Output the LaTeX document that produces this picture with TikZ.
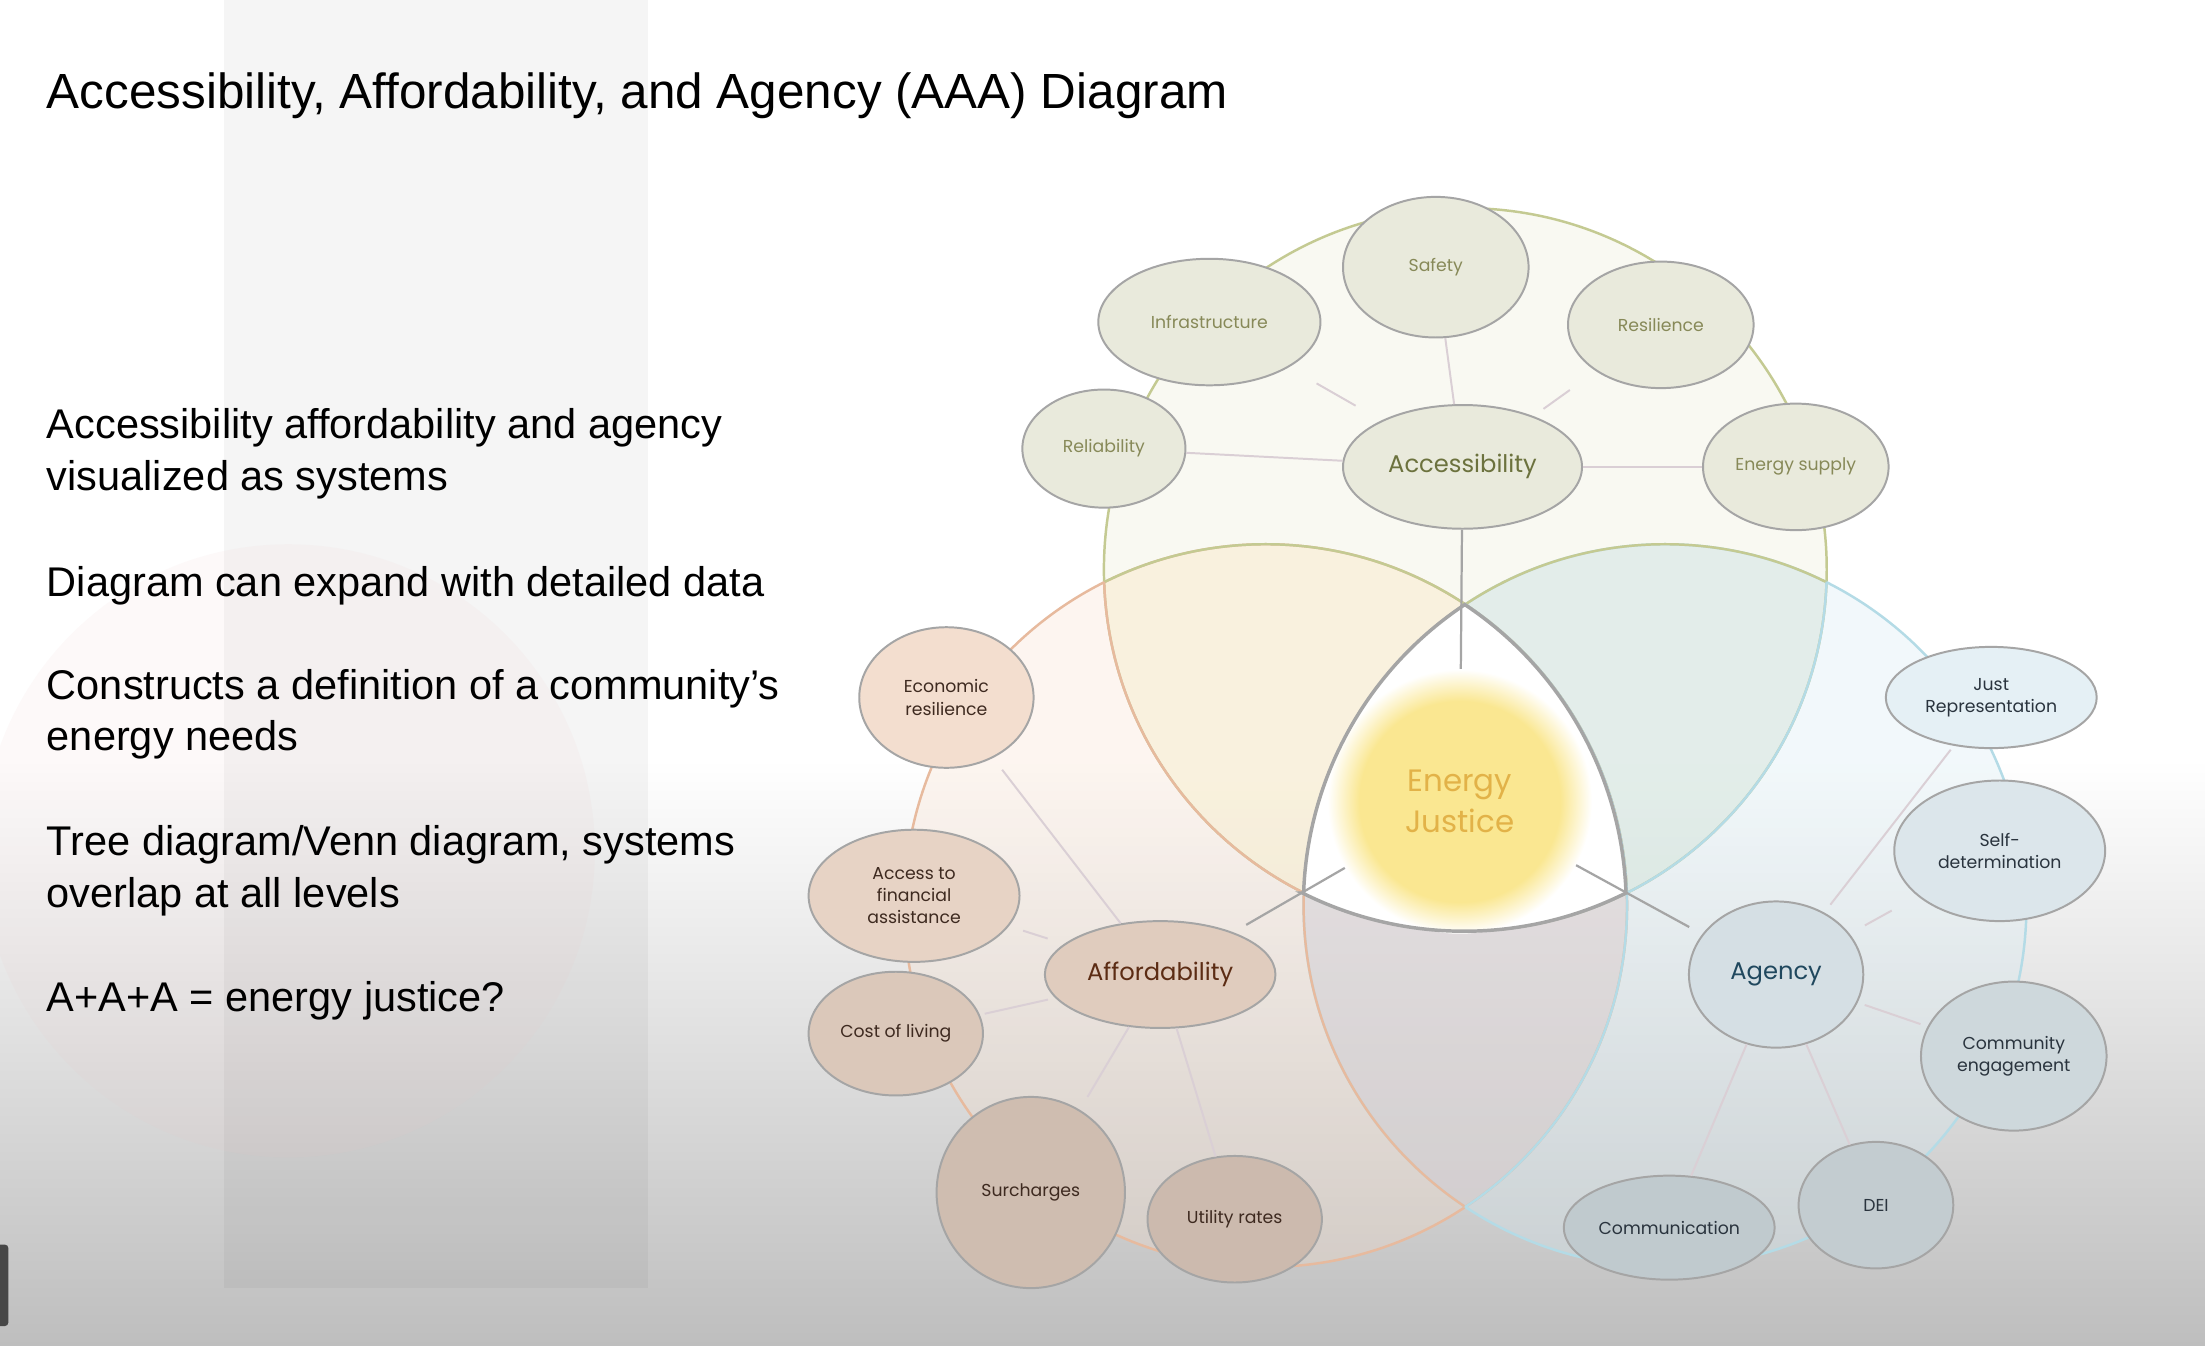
\documentclass[tikz,border=0pt]{standalone}
\usepackage{fontspec}
\setmainfont{Liberation Sans}
\newfontfamily\sketchfont{Poppins}
\usetikzlibrary{shapes.geometric, positioning}

\definecolor{bggray}{RGB}{190,190,190}
\definecolor{blush}{RGB}{236,200,200}
\definecolor{accring}{RGB}{196,202,146}
\definecolor{affring}{RGB}{231,186,158}
\definecolor{agcring}{RGB}{180,219,230}
\definecolor{accwash}{RGB}{236,238,214}
\definecolor{affwash}{RGB}{248,222,202}
\definecolor{agcwash}{RGB}{214,235,243}
\definecolor{lensab}{RGB}{255,244,200}
\definecolor{lensac}{RGB}{196,220,212}
\definecolor{lensbc}{RGB}{196,172,182}
\definecolor{ejline}{RGB}{165,165,165}
\definecolor{glowyel}{RGB}{250,231,145}
\definecolor{ejtext}{RGB}{226,178,72}
\definecolor{bubline}{RGB}{165,165,165}
\definecolor{linkpink}{RGB}{218,207,213}
\definecolor{accfill}{RGB}{233,234,220}
\definecolor{afffill}{RGB}{243,222,207}
\definecolor{agcfill}{RGB}{229,240,245}
\definecolor{acctext}{RGB}{135,137,88}
\definecolor{acchub}{RGB}{108,114,62}
\definecolor{afftext}{RGB}{62,42,32}
\definecolor{affhub}{RGB}{92,44,20}
\definecolor{agctext}{RGB}{42,52,62}
\definecolor{agchub}{RGB}{32,72,94}

\pgfdeclareradialshading{ejglow}{\pgfpoint{0cm}{0cm}}{color(0bp)=(glowyel); color(19bp)=(glowyel); color(25bp)=(white); color(50bp)=(white)}

\begin{document}
\begin{tikzpicture}[x=0.02cm, y=-0.02cm,
  bubble/.style={ellipse, draw=bubline, line width=0.8pt, inner sep=0pt, align=center,
    font=\sketchfont\fontsize{7}{9}\selectfont},
  accbub/.style={bubble, fill=accfill, text=acctext},
  affbub/.style={bubble, fill=afffill!#1!black, text=afftext},
  agcbub/.style={bubble, fill=agcfill!#1!black, text=agctext},
  hub/.style={font=\sketchfont\fontsize{9.8}{12}\selectfont},
  link/.style={draw=linkpink, line width=0.8pt},
  ejlink/.style={draw=ejline, line width=0.9pt},
  ring/.style={line width=1pt},
  bullet/.style={anchor=base west, align=left, inner sep=0pt, font=\fontsize{16.8}{21}\selectfont}]
  \useasboundingbox (0,0) rectangle (1568,957);
  % Background
  \fill[white] (0,0) rectangle (1568,541);
  \shade[top color=white, bottom color=bggray] (0,540) rectangle (1568,957);
  \fill[black, opacity=0.04] (159,0) rectangle (461,916);
  \fill[blush, opacity=0.1] (205,605) circle (218);
  \fill[black!72, rounded corners=1.5pt] (-6,885) rectangle (6,943);
  % Title and notes
  \node[anchor=base west, inner sep=0pt, font=\fontsize{20}{24}\selectfont] (title) at (33,77)
    {Accessibility, Affordability, and Agency (AAA) Diagram};
  \node[bullet] (p1) at (33,349) {Accessibility affordability and agency\\visualized as systems};
  \node[bullet] (p2) at (33,424) {Diagram can expand with detailed data};
  \node[bullet] (p3) at (33,534) {Constructs a definition of a community’s\\energy needs};
  \node[bullet] (p4) at (33,645) {Tree diagram/Venn diagram, systems\\overlap at all levels};
  \node[bullet] (p5) at (33,719) {A+A+A = energy justice?};
  % Venn circles
  \coordinate (cA) at (1042,405);
  \coordinate (cB) at (900,644);
  \coordinate (cC) at (1184,644);
  \fill[accwash, opacity=0.3] (cA) circle (257);
  \fill[affwash, opacity=0.28] (cB) circle (257);
  \fill[agcwash, opacity=0.3] (cC) circle (257);
  \begin{scope}
    \clip (cA) circle (257);
    \fill[lensab, opacity=0.25] (cB) circle (257);
    \fill[lensac, opacity=0.25] (cC) circle (257);
  \end{scope}
  \begin{scope}
    \clip (cB) circle (257);
    \fill[lensbc, opacity=0.22] (cC) circle (257);
  \end{scope}
  \draw[ring, accring] (cA) circle (257);
  \draw[ring, affring] (cB) circle (257);
  \draw[ring, agcring] (cC) circle (257);
  % arcs inside a neighbour take its colour
  \begin{scope}
    \clip (cA) circle (257);
    \draw[ring, accring] (cB) circle (257) (cC) circle (257);
  \end{scope}
  \begin{scope}
    \clip (cB) circle (257);
    \draw[ring, affring] (cA) circle (257) (cC) circle (257);
  \end{scope}
  \begin{scope}
    \clip (cC) circle (257);
    \draw[ring, agcring] (cA) circle (257) (cB) circle (257);
  \end{scope}
  % Energy justice core
  \fill[white] (927,635) arc[start angle=182, end angle=236.4, radius=257]
    arc[start angle=-56.4, end angle=-2, radius=257]
    arc[start angle=63.4, end angle=116.6, radius=257] -- cycle;
  \node[circle, minimum size=3.76cm, inner sep=0pt, shading=ejglow, align=center, text=ejtext,
    font=\sketchfont\fontsize{12.5}{16.5}\selectfont] (ej) at (1038,570) {Energy\\Justice};
  \draw[ejline, line width=1.4pt] (927,635) arc[start angle=182, end angle=236.4, radius=257]
    arc[start angle=-56.4, end angle=-2, radius=257]
    arc[start angle=63.4, end angle=116.6, radius=257] -- cycle;
  % Accessibility
  \node[accbub, minimum width=2.64cm, minimum height=2cm] (safety) at (1021,190) {Safety};
  \node[accbub, minimum width=3.16cm, minimum height=1.8cm] (infra) at (860,229) {Infrastructure};
  \node[accbub, minimum width=2.64cm, minimum height=1.8cm] (resil) at (1181,231) {Resilience};
  \node[accbub, minimum width=2.32cm, minimum height=1.68cm] (relia) at (785,319) {Reliability};
  \node[accbub, minimum width=2.64cm, minimum height=1.8cm] (supply) at (1277,332) {Energy supply};
  \node[accbub, hub, text=acchub, minimum width=3.4cm, minimum height=1.76cm] (acc) at (1040,332) {Accessibility};
  % Affordability
  \node[affbub=100, minimum width=2.48cm, minimum height=2cm] (econ) at (673,496) {Economic\\resilience};
  \node[affbub=95, minimum width=3cm, minimum height=1.88cm] (assist) at (650,637) {Access to\\financial\\assistance};
  \node[affbub=90, minimum width=2.48cm, minimum height=1.76cm] (living) at (637,735) {Cost of living};
  \node[affbub=85, minimum width=2.68cm, minimum height=2.72cm] (surch) at (733,848) {Surcharges};
  \node[affbub=84, minimum width=2.48cm, minimum height=1.8cm] (rates) at (878,867) {Utility rates};
  \node[affbub=92, hub, text=affhub, minimum width=3.28cm, minimum height=1.52cm] (aff) at (825,693) {Affordability};
  % Agency
  \node[agcbub=100, minimum width=3cm, minimum height=1.44cm] (justrep) at (1416,496) {Just\\Representation};
  \node[agcbub=96, minimum width=3cm, minimum height=2cm] (selfdet) at (1422,605) {Self-\\determination};
  \node[agcbub=90, minimum width=2.64cm, minimum height=2.12cm] (commeng) at (1432,751) {Community\\engagement};
  \node[agcbub=85, minimum width=2.2cm, minimum height=1.8cm] (dei) at (1334,857) {DEI};
  \node[agcbub=84, minimum width=3cm, minimum height=1.48cm] (commun) at (1187,873) {Communication};
  \node[agcbub=93, hub, text=agchub, minimum width=2.48cm, minimum height=2.08cm] (agc) at (1263,693) {Agency};
  % Links
  \draw[link] (acc) -- (safety);
  \draw[link, shorten <=12pt, shorten >=13pt] (acc) -- (infra);
  \draw[link, shorten <=5pt, shorten >=13pt] (acc) -- (resil);
  \draw[link] (acc) -- (relia);
  \draw[link] (acc) -- (supply);
  \draw[link, shorten >=6pt] (aff) -- (econ);
  \draw[link, shorten <=7pt, shorten >=6pt] (aff) -- (assist);
  \draw[link, shorten <=3pt, shorten >=2pt] (aff) -- (living);
  \draw[link, shorten >=6pt] (aff) -- (surch);
  \draw[link] (aff) -- (rates);
  \draw[link, shorten <=4pt, shorten >=2pt] (agc) -- (justrep);
  \draw[link, shorten <=7pt, shorten >=12pt] (agc) -- (selfdet);
  \draw[link, shorten <=3pt, shorten >=3pt] (agc) -- (commeng);
  \draw[link] (agc) -- (dei);
  \draw[link] (agc) -- (commun);
  \draw[ejlink] (acc) -- (ej);
  \draw[ejlink, shorten >=6pt] (ej) -- (aff);
  \draw[ejlink, shorten >=6pt] (ej) -- (agc);
\end{tikzpicture}
\end{document}
